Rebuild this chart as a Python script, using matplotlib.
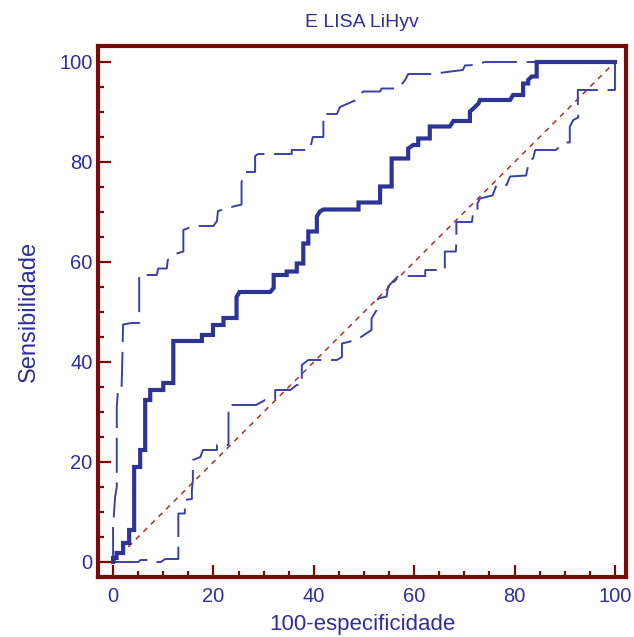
import matplotlib.pyplot as plt
from matplotlib.ticker import MultipleLocator

# ROC curve (100-specificity, sensitivity)
roc_fpr = [0, 0, 0.7, 0.7, 2.0, 2.0, 3.2, 3.2, 4.2, 4.2, 5.4, 5.4, 6.4, 6.4, 7.4, 7.4,
           10.0, 10.0, 12.0, 12.0, 17.7, 17.7, 19.9, 19.9, 22.0, 22.0, 24.6, 24.6, 25.2,
           31.3, 32.0, 32.0, 34.6, 34.6, 36.6, 36.6, 37.9, 37.9, 38.9, 38.9, 40.6, 40.6,
           41.2, 41.9, 48.9, 48.9, 53.2, 53.2, 55.5, 55.5, 58.8, 58.8, 59.8, 60.8, 60.8,
           63.1, 63.1, 67.1, 67.8, 71.1, 71.1, 71.8, 72.8, 73.1, 79.1, 79.7, 81.7, 81.7,
           82.7, 82.7, 83.4, 84.4, 84.4, 100]
roc_tpr = [0, 0.8, 0.8, 1.8, 1.8, 3.8, 3.8, 6.4, 6.4, 19.0, 19.0, 22.4, 22.4, 32.4, 32.4, 34.4,
           34.4, 35.8, 35.8, 44.2, 44.2, 45.4, 45.4, 47.4, 47.4, 48.8, 48.8, 53.0, 54.0,
           54.0, 54.8, 57.4, 57.4, 58.1, 58.1, 59.7, 59.7, 63.7, 63.7, 66.1, 66.1, 69.1,
           70.1, 70.5, 70.5, 71.9, 71.9, 75.1, 75.1, 80.7, 80.7, 82.7, 83.4, 83.4, 84.7,
           84.7, 87.1, 87.1, 88.2, 88.2, 90.1, 90.7, 91.7, 92.4, 92.4, 93.4, 93.4, 95.7,
           95.7, 96.4, 97.1, 97.1, 100, 100]

# upper 95% confidence bound
upper_fpr = [0, 0, 0.4, 0.74, 0.74, 1.0, 1.7, 1.9, 2.0, 3.7, 5.2, 5.2, 8.7, 9.0, 10.7,
             10.9, 12.4, 14.0, 14.0, 16.0, 20.0, 20.7, 20.9, 23.6, 25.6, 25.6, 26.3, 28.3,
             28.3, 28.9, 35.6, 35.6, 39.2, 39.8, 41.9, 41.9, 44.6, 45.2, 46.6, 48.4, 49.8,
             53.2, 53.5, 56.8, 58.2, 58.8, 63.7, 66.5, 69.7, 70.1, 72.1, 74.1, 100]
upper_tpr = [0, 7.0, 13.0, 15.0, 31.0, 34.8, 34.8, 43.0, 47.5, 47.8, 47.8, 57.4, 57.4, 58.7,
             58.7, 60.4, 61.6, 62.1, 66.4, 67.2, 67.2, 68.2, 70.2, 71.0, 71.5, 76.0, 78.0,
             78.0, 81.2, 81.6, 81.6, 82.4, 82.4, 85.0, 85.0, 89.6, 89.6, 91.0, 91.6, 92.4,
             94.1, 94.1, 94.7, 94.7, 96.4, 97.6, 97.6, 98.0, 98.4, 99.3, 99.4, 100, 100]

# lower 95% confidence bound
lower_fpr = [0, 5.0, 5.5, 7.6, 8.2, 9.5, 10.4, 13.0, 13.0, 14.3, 14.3, 15.7, 15.7, 15.9,
             15.9, 17.4, 17.9, 20.7, 20.7, 23.0, 23.0, 28.5, 30.3, 32.3, 32.3, 35.3, 36.6,
             37.6, 37.6, 38.9, 44.6, 45.6, 45.6, 48.5, 51.5, 51.5, 52.5, 52.8, 54.5, 54.8,
             56.8, 62.2, 62.2, 66.1, 66.1, 68.3, 68.4, 68.4, 71.5, 71.8, 72.6, 72.6, 73.1,
             75.6, 76.4, 78.4, 79.1, 82.3, 82.9, 83.7, 84.1, 88.2, 90.0, 91.0, 91.0, 91.7,
             92.7, 92.6, 92.6, 99.3, 100, 100]
lower_tpr = [0, 0, 0.4, 0.4, 0, 0, 0.6, 0.6, 9.7, 9.7, 12.4, 12.6, 14.4, 16.4,
             20.4, 21.0, 22.4, 22.4, 23.4, 23.4, 31.4, 31.4, 32.4, 32.4, 34.4, 34.4, 35.4,
             35.4, 39.4, 40.4, 40.4, 41.0, 43.7, 44.4, 46.4, 48.7, 50.4, 52.7, 53.1, 55.1,
             57.2, 57.2, 58.4, 58.4, 62.1, 62.1, 64.3, 68.0, 68.0, 70.4, 70.4, 71.7, 72.7,
             73.3, 75.4, 75.4, 77.1, 77.3, 80.4, 80.7, 82.4, 82.4, 83.9, 83.9, 87.1, 88.4,
             88.9, 92.1, 94.4, 94.4, 94.4, 100]

diag_x = [0, 100]
diag_y = [0, 100]

tick_values = [0, 20, 40, 60, 80, 100]
title_text = "E LISA LiHyv"
x_label = "100-especificidade"
y_label = "Sensibilidade"

frame_color = "#7a0a0a"
curve_color = "#2e3494"
ci_color = "#3a41a6"
diag_color = "#a83228"
text_color = "#2e2e9c"

plt.rcParams["font.family"] = ["Liberation Sans", "DejaVu Sans"]

fig = plt.figure(figsize=(6.34, 6.37), dpi=100)
ax = fig.add_axes([0.1546, 0.0942, 0.8328, 0.8336])

ax.plot(diag_x, diag_y, color=diag_color, lw=1.1, linestyle=(0, (3.5, 3.5)))
ax.plot(upper_fpr, upper_tpr, color=ci_color, lw=1.4, linestyle=(0, (18, 5)))
ax.plot(lower_fpr, lower_tpr, color=ci_color, lw=1.4, linestyle=(0, (18, 5)))
ax.plot(roc_fpr, roc_tpr, color=curve_color, lw=3.0, solid_joinstyle="miter")

ax.set_xlim(-3, 102.2)
ax.set_ylim(-3, 103.2)
ax.set_xticks(tick_values)
ax.set_yticks(tick_values)
ax.xaxis.set_minor_locator(MultipleLocator(5))
ax.yaxis.set_minor_locator(MultipleLocator(5))

for side in ax.spines.values():
    side.set_color(frame_color)
    side.set_linewidth(3)

ax.tick_params(which="both", direction="in", color=frame_color, width=1.6,
               top=False, right=False, labelcolor=text_color, labelsize=14.5)
ax.tick_params(which="major", length=9)
ax.tick_params(which="minor", length=4.5)
ax.tick_params(axis="y", pad=4)
ax.tick_params(axis="x", pad=7)

ax.set_title(title_text, color=text_color, fontsize=14, pad=14)
ax.set_xlabel(x_label, color=text_color, fontsize=16, labelpad=6)
ax.set_ylabel(y_label, color=text_color, fontsize=17, labelpad=14)

fig.savefig("out.png", dpi=100)
